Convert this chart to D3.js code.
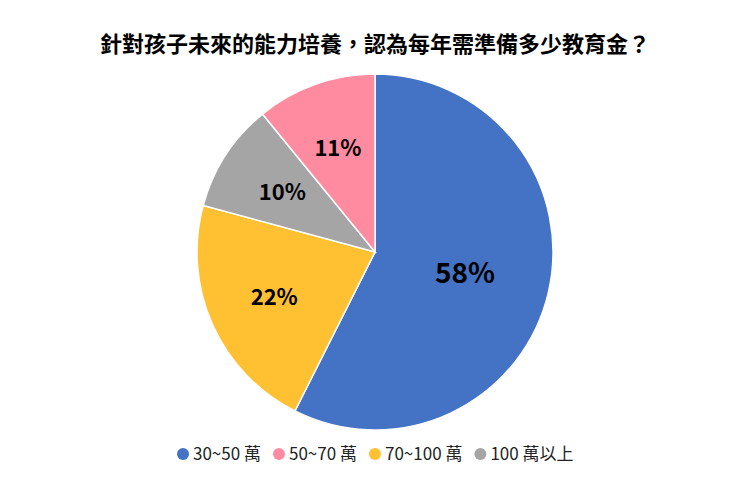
<!DOCTYPE html>
<html><head><meta charset="utf-8">
<script src="https://cdn.jsdelivr.net/npm/d3@7"></script>
<style>body{margin:0;background:#fff}</style>
</head><body>
<svg id="chart" width="750" height="500"></svg>
<script>
const title = "針對孩子未來的能力培養，認為每年需準備多少教育金？";
// legend order
const categories = ["30~50 萬", "50~70 萬", "70~100 萬", "100 萬以上"];
const values = [58, 11, 22, 10];
const colors = ["#4472C4", "#FF8BA1", "#FFC031", "#A5A5A5"];
// clockwise drawing order from 12 o'clock
const drawOrder = [0, 2, 3, 1];

const svg = d3.select("#chart");
const font = "'Noto Sans CJK TC', 'Noto Sans', sans-serif";
const cx = 375, cy = 252, r = 178;

svg.append("text").attr("x", 375).attr("y", 52).attr("text-anchor", "middle")
    .style("font-family", font).style("font-size", "22px").style("font-weight", "bold")
    .text(title);

const slices = drawOrder.map(i => ({ i, v: values[i] }));
const pie = d3.pie().sort(null).value(d => d.v);
const arc = d3.arc().innerRadius(0).outerRadius(r);
const labelR = i => i === 0 ? r * 0.52 : r * 0.62;

const g = svg.append("g").attr("transform", `translate(${cx},${cy})`);
const arcs = pie(slices);
g.selectAll("path").data(arcs).join("path")
    .attr("d", arc).attr("fill", d => colors[d.data.i])
    .attr("stroke", "#fff").attr("stroke-width", 1.5);

g.selectAll("text").data(arcs).join("text")
    .attr("transform", d => {
        const a = (d.startAngle + d.endAngle) / 2, rr = labelR(d.data.i);
        return `translate(${Math.sin(a) * rr},${-Math.cos(a) * rr})`;
    })
    .attr("text-anchor", "middle").attr("dy", "0.35em")
    .style("font-family", font).style("font-weight", "bold")
    .style("font-size", d => d.data.i === 0 ? "28px" : "22px")
    .text(d => d.data.v + "%");

// legend
const lg = svg.append("g").attr("transform", "translate(0,454)");
let x = 177;
categories.forEach((c, i) => {
    lg.append("circle").attr("cx", x + 6).attr("cy", 0).attr("r", 6).attr("fill", colors[i]);
    const t = lg.append("text").attr("x", x + 16).attr("y", 0).attr("dy", "0.35em")
        .style("font-family", font).style("font-size", "17px").attr("fill", "#222").text(c);
    x += 16 + t.node().getComputedTextLength() + 12;
});
</script>
</body></html>
